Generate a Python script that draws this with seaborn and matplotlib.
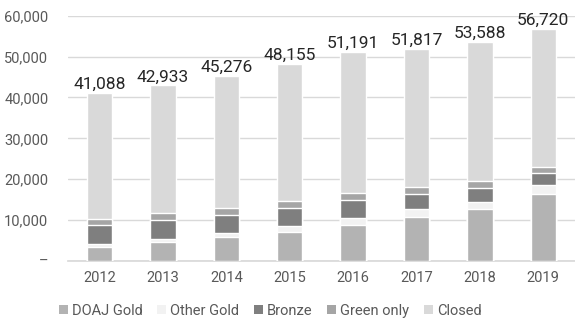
import matplotlib
matplotlib.use("Agg")
import matplotlib.pyplot as plt
import seaborn as sns
import pandas as pd
import numpy as np
from matplotlib.patches import Patch
from matplotlib.ticker import FuncFormatter

years = ["2012", "2013", "2014", "2015", "2016", "2017", "2018", "2019"]
doaj_gold = [3450, 4530, 5830, 7130, 8770, 10740, 12700, 16450]
other_gold = [590, 740, 910, 1400, 1650, 1880, 1710, 2130]
bronze = [4730, 4730, 4560, 4480, 4480, 3750, 3360, 3010]
green_only = [1470, 1640, 1570, 1720, 1790, 1790, 1790, 1330]
totals = [41088, 42933, 45276, 48155, 51191, 51817, 53588, 56720]

series_names = ["DOAJ Gold", "Other Gold", "Bronze", "Green only", "Closed"]
colors = ["#b3b3b3", "#f2f2f2", "#7f7f7f", "#a5a5a5", "#d9d9d9"]

closed = [t - (a + b + c + d) for t, a, b, c, d in
          zip(totals, doaj_gold, other_gold, bronze, green_only)]

df = pd.DataFrame({
    "year": years,
    "DOAJ Gold": doaj_gold,
    "Other Gold": other_gold,
    "Bronze": bronze,
    "Green only": green_only,
    "Closed": closed,
})

sns.set_theme(style="white")
plt.rcParams["font.family"] = ["Roboto", "DejaVu Sans"]

fig = plt.figure(figsize=(5.75, 3.22), dpi=100)
ax = fig.add_axes([0.118, 0.19, 0.882, 0.761])

# cumulative stacks drawn top-down so each lower segment overlays the one above
cum = df[series_names].cumsum(axis=1)
for name, color in reversed(list(zip(series_names, colors))):
    sns.barplot(x=df["year"], y=cum[name], color=color, width=0.4,
                saturation=1, ax=ax, zorder=3)

for i, t in enumerate(totals):
    ax.text(i, t + 250, f"{t:,}", ha="center", va="bottom",
            fontsize=12.5, color="#262626")

ax.set_ylim(0, 60000)
ax.set_xlim(-0.5, 7.5)
ax.set_yticks(np.arange(0, 60001, 10000))
ax.yaxis.set_major_formatter(FuncFormatter(lambda v, p: "–" if v == 0 else f"{int(v):,}"))
ax.grid(axis="y", color="#d9d9d9", linewidth=1, zorder=0)
ax.set_xlabel("")
ax.set_ylabel("")
for s in ["top", "right", "left"]:
    ax.spines[s].set_visible(False)
ax.spines["bottom"].set_color("#d9d9d9")
ax.spines["bottom"].set_zorder(1)
ax.tick_params(axis="both", length=0, labelsize=10.5, labelcolor="#595959")
ax.tick_params(axis="x", pad=7)
ax.tick_params(axis="y", pad=14)

handles = [Patch(facecolor=c, edgecolor="none") for c in colors]
fig.legend(handles, series_names, loc="center", bbox_to_anchor=(0.47, 0.035),
           ncol=5, frameon=False, fontsize=10.5, handlelength=0.6,
           handleheight=0.6, handletextpad=0.3, columnspacing=1.0,
           labelcolor="#595959")

fig.savefig("out.png", dpi=100)
